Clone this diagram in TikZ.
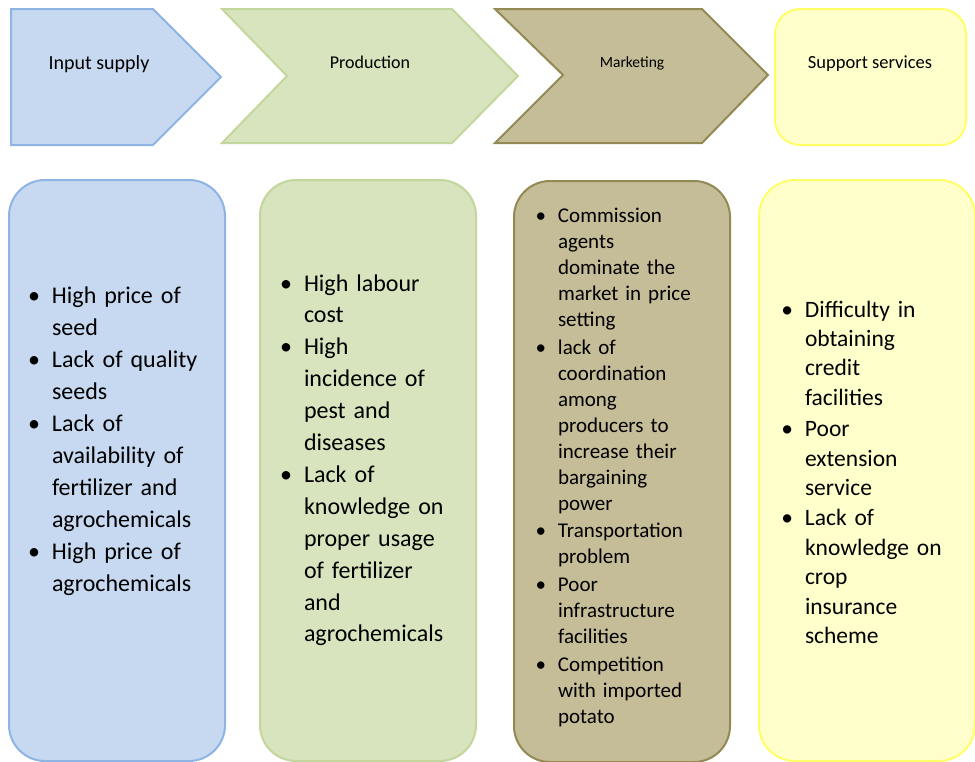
\documentclass[tikz,border=0pt]{standalone}
\usepackage{fontspec}
\setmainfont{Carlito}
\usepackage{xcolor}
\usepackage{tikz}
\usetikzlibrary{positioning}

\definecolor{inblue}{HTML}{C6D9F1}
\definecolor{inblueline}{HTML}{8EB4E3}
\definecolor{prgreen}{HTML}{D7E4BD}
\definecolor{prgreenline}{HTML}{C3D69B}
\definecolor{mktan}{HTML}{C4BD97}
\definecolor{mktanline}{HTML}{938953}
\definecolor{spyellow}{HTML}{FFFFCC}
\definecolor{spyellowline}{HTML}{FFFF66}

\newcommand{\bul}{\leavevmode\llap{\textbullet\hspace{12pt}}}

\begin{document}
\begin{tikzpicture}[x=1pt,y=-1pt,line width=2pt,
  panel/.style={draw,rounded corners=36pt,minimum width=216pt,minimum height=581pt,anchor=north west,inner sep=0pt},
  stage/.style={anchor=center,inner sep=0pt},
  items/.style={anchor=base west,align=left,text width=200pt,inner sep=0pt}]
\useasboundingbox (0,0) rectangle (975,761);

\draw[fill=inblue,draw=inblueline] (11,9) -- (153,9) -- (221,77) -- (153,145) -- (11,145) -- cycle;
\node[stage,font=\fontsize{20}{24}\selectfont] (input) at (99,64) {Input supply};

\draw[fill=prgreen,draw=prgreenline] (222,9) -- (452,9) -- (518,76) -- (452,143) -- (222,143) -- (287,76) -- cycle;
\node[stage,font=\fontsize{18}{22}\selectfont] (prod) at (370,62) {Production};

\draw[fill=mktan,draw=mktanline] (495,9) -- (702,9) -- (768,75) -- (702,143) -- (495,143) -- (563,75) -- cycle;
\node[stage,font=\fontsize{15.5}{19}\selectfont] (mark) at (632,63) {Marketing};

\draw[fill=spyellow,draw=spyellowline,rounded corners=25pt] (775,9) rectangle (966,145);
\node[stage,font=\fontsize{18.5}{22}\selectfont] (supp) at (870,64) {Support services};

\node[panel,fill=inblue,draw=inblueline] (b1) at (8,179) {};
\node[panel,fill=prgreen,draw=prgreenline] (b2) at (259,179) {};
\node[panel,fill=mktan,draw=mktanline] (b3) at (513,180) {};
\node[panel,fill=spyellow,draw=spyellowline] (b4) at (758,179) {};

\node[items,font=\fontsize{24}{32}\selectfont] (t1) at (51,303)
{\bul High price of\\ seed\\ \bul Lack of quality\\ seeds\\ \bul Lack of\\ availability of\\ fertilizer and\\ agrochemicals\\ \bul High price of\\ agrochemicals};

\node[items,font=\fontsize{24}{31.9}\selectfont] (t2) at (303,291)
{\bul High labour\\ cost\\ \bul High\\ incidence of\\ pest and\\ diseases\\ \bul Lack of\\ knowledge on\\ proper usage\\ of fertilizer\\ and\\ agrochemicals};

\node[items,font=\fontsize{21}{26}\selectfont] (t3) at (557,222)
{\bul Commission\\ agents\\ dominate the\\ market in price\\ setting\\[2pt] \bul lack of\\ coordination\\ among\\ producers to\\ increase their\\ bargaining\\ power\\[1pt] \bul Transportation\\ problem\\[2pt] \bul Poor\\ infrastructure\\ facilities\\[2pt] \bul Competition\\ with imported\\ potato};

\node[items,font=\fontsize{23.5}{29.4}\selectfont] (t4) at (804,317)
{\bul Difficulty in\\ obtaining\\ credit\\ facilities\\[2pt] \bul Poor\\ extension\\ service\\[1pt] \bul Lack of\\ knowledge on\\ crop\\ insurance\\ scheme};

\end{tikzpicture}
\end{document}
